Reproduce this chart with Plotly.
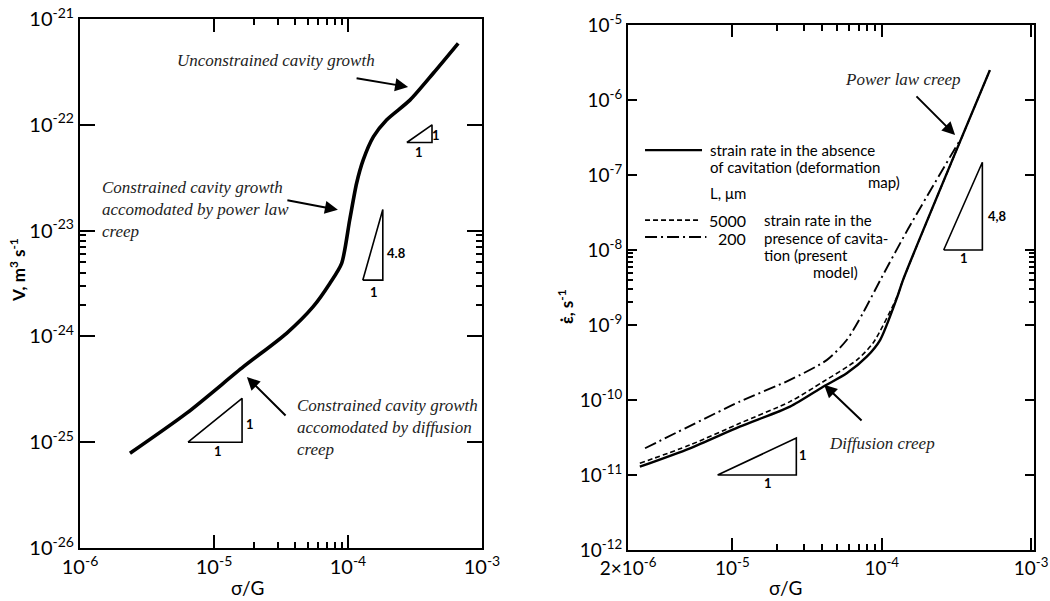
import math
import plotly.graph_objects as go

# ---------------- data: left panel (cavity volume growth rate) ----------------
left_sigma = [2.36e-6, 6.25e-6, 1.66e-5, 3.48e-5, 5.5e-5, 7.34e-5, 8.97e-5, 1.03e-4,
              1.16e-4, 1.3e-4, 1.55e-4, 1.94e-4, 2.9e-4, 4.33e-4, 6.65e-4]
left_V = [7.85e-26, 1.88e-25, 5.17e-25, 1.07e-24, 1.91e-24, 3.18e-24, 4.9e-24, 1.26e-23,
          2.8e-23, 4.65e-23, 7.72e-23, 1.11e-22, 1.71e-22, 3.07e-22, 5.89e-22]

# ---------------- data: right panel (strain rate) ----------------
solid_sigma = [2.4e-6, 5.2e-6, 1.12e-5, 2.43e-5, 4.05e-5, 5.83e-5, 7.94e-5, 9.75e-5,
               1.27e-4, 1.39e-4, 5.3e-4]
solid_rate = [1.29e-11, 2.27e-11, 4.41e-11, 8.15e-11, 1.5e-10, 2.27e-10, 3.78e-10, 6.3e-10,
              2.36e-9, 4.0e-9, 2.5e-6]

dash_sigma = [2.4e-6, 5.2e-6, 1.12e-5, 2.43e-5, 4.05e-5, 6.8e-5, 8.75e-5, 1.27e-4, 1.39e-4, 5.3e-4]
dash_rate = [1.43e-11, 2.51e-11, 4.89e-11, 9.5e-11, 1.75e-10, 3.4e-10, 5.75e-10, 2.4e-9, 4.0e-9, 2.5e-6]

dd_sigma = [2.6e-6, 1.12e-5, 2.43e-5, 4.28e-5, 5.83e-5, 7.5e-5, 9.8e-5, 1.5e-4, 3.3e-4]
dd_rate = [2.27e-11, 9.5e-11, 1.85e-10, 3.4e-10, 6.3e-10, 1.45e-9, 4.0e-9, 1.9e-8, 2.8e-7]

# tick labels
left_xticks = [1e-6, 1e-5, 1e-4, 1e-3]
left_xlabels = ["10<sup>-6</sup>", "10<sup>-5</sup>", "10<sup>-4</sup>", "10<sup>-3</sup>"]
left_yticks = [1e-26, 1e-25, 1e-24, 1e-23, 1e-22, 1e-21]
left_ylabels = ["10<sup>-26</sup>", "10<sup>-25</sup>", "10<sup>-24</sup>",
                "10<sup>-23</sup>", "10<sup>-22</sup>", "10<sup>-21</sup>"]
right_xticks = [2e-6, 1e-5, 1e-4, 1e-3]
right_xlabels = ["2×10<sup>-6</sup>", "10<sup>-5</sup>", "10<sup>-4</sup>", "10<sup>-3</sup>"]
right_yticks = [1e-12, 1e-11, 1e-10, 1e-9, 1e-8, 1e-7, 1e-6, 1e-5]
right_ylabels = ["10<sup>-12</sup>", "10<sup>-11</sup>", "10<sup>-10</sup>", "10<sup>-9</sup>",
                 "10<sup>-8</sup>", "10<sup>-7</sup>", "10<sup>-6</sup>", "10<sup>-5</sup>"]
minor_x = [k * 1e-5 for k in range(2, 10)]
minor_left_y = [k * 1e-24 for k in range(2, 10)]
minor_right_y = [k * 1e-9 for k in range(2, 10)]

# slope triangles (data coords): (x_left, x_right, y_bottom, y_top)
left_triangles = [(2.75e-4, 4.24e-4, 6.8e-23, 1.0e-22),
                  (1.29e-4, 1.82e-4, 3.4e-24, 1.58e-23),
                  (6.4e-6, 1.62e-5, 1.0e-25, 2.6e-25)]
right_triangles = [(2.6e-4, 4.72e-4, 1.0e-8, 1.48e-7),
                   (7.96e-6, 2.68e-5, 1.0e-11, 3.1e-11)]

SANS = "Lato"
SERIF = "Liberation Serif"
L = math.log10

fig = go.Figure()

fig.add_trace(go.Scatter(x=left_sigma, y=left_V, mode="lines", xaxis="x", yaxis="y",
                         line=dict(color="black", width=3.6, shape="spline", smoothing=0.7),
                         hoverinfo="skip", showlegend=False))
fig.add_trace(go.Scatter(x=solid_sigma, y=solid_rate, mode="lines", xaxis="x2", yaxis="y2",
                         line=dict(color="black", width=2.4, shape="spline", smoothing=0.7),
                         hoverinfo="skip", showlegend=False))
fig.add_trace(go.Scatter(x=dash_sigma, y=dash_rate, mode="lines", xaxis="x2", yaxis="y2",
                         line=dict(color="black", width=1.6, dash="5px,3px", shape="spline", smoothing=0.7),
                         hoverinfo="skip", showlegend=False))
fig.add_trace(go.Scatter(x=dd_sigma, y=dd_rate, mode="lines", xaxis="x2", yaxis="y2",
                         line=dict(color="black", width=1.9, dash="12px,4px,2px,4px", shape="spline", smoothing=0.7),
                         hoverinfo="skip", showlegend=False))

for (x0, x1, y0, y1) in left_triangles:
    fig.add_trace(go.Scatter(x=[x0, x1, x1, x0], y=[y0, y0, y1, y0], mode="lines",
                             xaxis="x", yaxis="y", line=dict(color="black", width=1.6),
                             hoverinfo="skip", showlegend=False))
for (x0, x1, y0, y1) in right_triangles:
    fig.add_trace(go.Scatter(x=[x0, x1, x1, x0], y=[y0, y0, y1, y0], mode="lines",
                             xaxis="x2", yaxis="y2", line=dict(color="black", width=1.6),
                             hoverinfo="skip", showlegend=False))

common = dict(type="log", showgrid=False, zeroline=False, showline=True, linecolor="black",
              linewidth=2, mirror="ticks", ticks="inside", tickcolor="black", tickwidth=2,
              tickmode="array", automargin=False)
font_left = dict(family=SANS, size=20, color="black")
font_right = dict(family=SANS, size=19, color="black")

fig.update_layout(
    width=1050, height=601, margin=dict(l=0, r=0, t=0, b=0, autoexpand=False),
    paper_bgcolor="white", plot_bgcolor="white", showlegend=False,
    xaxis=dict(common, domain=[0.0762, 0.4590], range=[-6.0001, -2.9999], anchor="y",
               tickvals=left_xticks, ticktext=left_xlabels, ticklen=13, tickfont=font_left,
               minor=dict(tickvals=minor_x, ticklen=6, ticks="inside", tickcolor="black", tickwidth=2)),
    yaxis=dict(common, domain=[0.0882, 0.9684], range=[-26.0001, -20.9999], anchor="x",
               tickvals=left_yticks, ticktext=left_ylabels, ticklen=15, tickfont=font_left,
               minor=dict(tickvals=minor_left_y, ticklen=6, ticks="inside", tickcolor="black", tickwidth=2)),
    xaxis2=dict(common, domain=[0.5981, 0.9848], range=[-5.699, -2.98], anchor="y2",
                tickvals=right_xticks, ticktext=right_xlabels, ticklen=12, tickfont=font_right,
                minor=dict(tickvals=minor_x, ticklen=6, ticks="inside", tickcolor="black", tickwidth=2)),
    yaxis2=dict(common, domain=[0.0849, 0.9584], range=[-12.0001, -4.9999], anchor="x2",
                tickvals=right_yticks, ticktext=right_ylabels, ticklen=9, tickfont=font_right,
                minor=dict(tickvals=minor_right_y, ticklen=5, ticks="inside", tickcolor="black", tickwidth=2)),
)

ann = []
ital = dict(family=SERIF, size=17, color="#222")


def text(xr, yr, x, y, s, font, xanchor="center", align="left"):
    ann.append(dict(xref=xr, yref=yr, x=L(x), y=L(y), text=s, showarrow=False,
                    xanchor=xanchor, yanchor="middle", align=align, font=font))


def arrow(xr, yr, x_head, y_head, x_tail, y_tail):
    ann.append(dict(xref=xr, yref=yr, axref=xr, ayref=yr, x=L(x_head), y=L(y_head),
                    ax=L(x_tail), ay=L(y_tail), text="", showarrow=True,
                    arrowhead=2, arrowsize=1.3, arrowwidth=2, arrowcolor="black"))


# left panel annotations
text("x", "y", 5.12e-6, 4.09e-22, "<i>Unconstrained cavity growth</i>", ital, "left")
arrow("x", "y", 2.81e-4, 2.28e-22, 1.13e-4, 2.77e-22)
text("x", "y", 1.41e-6, 1.6e-23,
     "<i>Constrained cavity growth<br>accomodated by power law<br>creep</i>", ital, "left")
arrow("x", "y", 8.41e-5, 1.57e-23, 3.44e-5, 1.95e-23)
text("x", "y", 4.02e-5, 1.39e-25,
     "<i>Constrained cavity growth<br>accomodated by diffusion<br>creep</i>", ital, "left")
arrow("x", "y", 1.76e-5, 4.13e-25, 3.51e-5, 1.73e-25)

small = dict(family=SANS, size=13, color="black")
text("x", "y", 4.54e-4, 8.0e-23, "<b>1</b>", small)
text("x", "y", 3.39e-4, 5.5e-23, "<b>1</b>", small)
text("x", "y", 2.32e-4, 6.1e-24, "<b>4.8</b>", small)
text("x", "y", 1.56e-4, 2.6e-24, "<b>1</b>", small)
text("x", "y", 1.86e-5, 1.49e-25, "<b>1</b>", small)
text("x", "y", 1.07e-5, 8.3e-26, "<b>1</b>", small)

# right panel annotations
text("x2", "y2", 1.39e-4, 1.85e-6, "<i>Power law creep</i>", ital)
arrow("x2", "y2", 3.1e-4, 3.41e-7, 1.67e-4, 1.17e-6)
text("x2", "y2", 1.0e-4, 2.59e-11, "<i>Diffusion creep</i>", ital)
arrow("x2", "y2", 4.11e-5, 1.6e-10, 7.5e-5, 5.1e-11)
text("x2", "y2", 6.0e-4, 2.84e-8, "<b>4,8</b>", small)
text("x2", "y2", 3.56e-4, 7.8e-9, "<b>1</b>", small)
text("x2", "y2", 2.97e-5, 1.85e-11, "<b>1</b>", small)
text("x2", "y2", 1.73e-5, 7.8e-12, "<b>1</b>", small)

# legend block (right panel)
leg = dict(family=SANS, size=15, color="black")
num = dict(family=SANS, size=16, color="black")
text("x2", "y2", 6.87e-6, 2.15e-7, "strain rate in the absence", leg, "left")
text("x2", "y2", 6.87e-6, 1.28e-7, "of cavitation (deformation", leg, "left")
text("x2", "y2", 1.37e-4, 8.07e-8, "map)", leg, "right")
text("x2", "y2", 6.87e-6, 5.75e-8, "L, μm", leg, "left")
text("x2", "y2", 1.27e-5, 2.5e-8, "5000", num, "right")
text("x2", "y2", 1.27e-5, 1.44e-8, "200", num, "right")
text("x2", "y2", 1.58e-5, 2.5e-8, "strain rate in the", leg, "left")
text("x2", "y2", 1.58e-5, 1.44e-8, "presence of cavita-", leg, "left")
text("x2", "y2", 1.58e-5, 8.58e-9, "tion (present", leg, "left")
text("x2", "y2", 7.16e-5, 5.09e-9, "model)", leg, "right")

# axis titles
title_font = dict(family=SANS, size=17, color="black")
ann.append(dict(xref="paper", yref="paper", x=17 / 1050, y=0.5507, textangle=-90,
                text="<b>V, m<sup>3</sup> s<sup>-1</sup></b>", showarrow=False,
                xanchor="center", yanchor="middle", font=title_font))
ann.append(dict(xref="paper", yref="paper", x=565 / 1050, y=0.489, textangle=-90,
                text="<b>ε̇, s<sup>-1</sup></b>", showarrow=False,
                xanchor="center", yanchor="middle", font=title_font))
ann.append(dict(xref="paper", yref="paper", x=247 / 1050, y=1 - 587 / 601,
                text="σ/G", showarrow=False, xanchor="center", yanchor="middle", font=dict(title_font, size=19)))
ann.append(dict(xref="paper", yref="paper", x=785 / 1050, y=1 - 587 / 601,
                text="σ/G", showarrow=False, xanchor="center", yanchor="middle", font=dict(title_font, size=19)))

fig.update_layout(annotations=ann)

# legend line samples (data coords of right axes)
fig.add_shape(type="line", xref="x2", yref="y2", x0=2.6e-6, x1=6.26e-6, y0=2.15e-7, y1=2.15e-7,
              line=dict(color="black", width=2.2))
fig.add_shape(type="line", xref="x2", yref="y2", x0=2.6e-6, x1=6.1e-6, y0=2.5e-8, y1=2.5e-8,
              line=dict(color="black", width=1.6, dash="5px,3px"))
fig.add_shape(type="line", xref="x2", yref="y2", x0=2.6e-6, x1=6.7e-6, y0=1.49e-8, y1=1.49e-8,
              line=dict(color="black", width=1.9, dash="12px,4px,2px,4px"))

fig.write_html("out.html", config={"displayModeBar": False},
               post_script="document.body.style.margin='0px';document.body.style.overflow='hidden';")
